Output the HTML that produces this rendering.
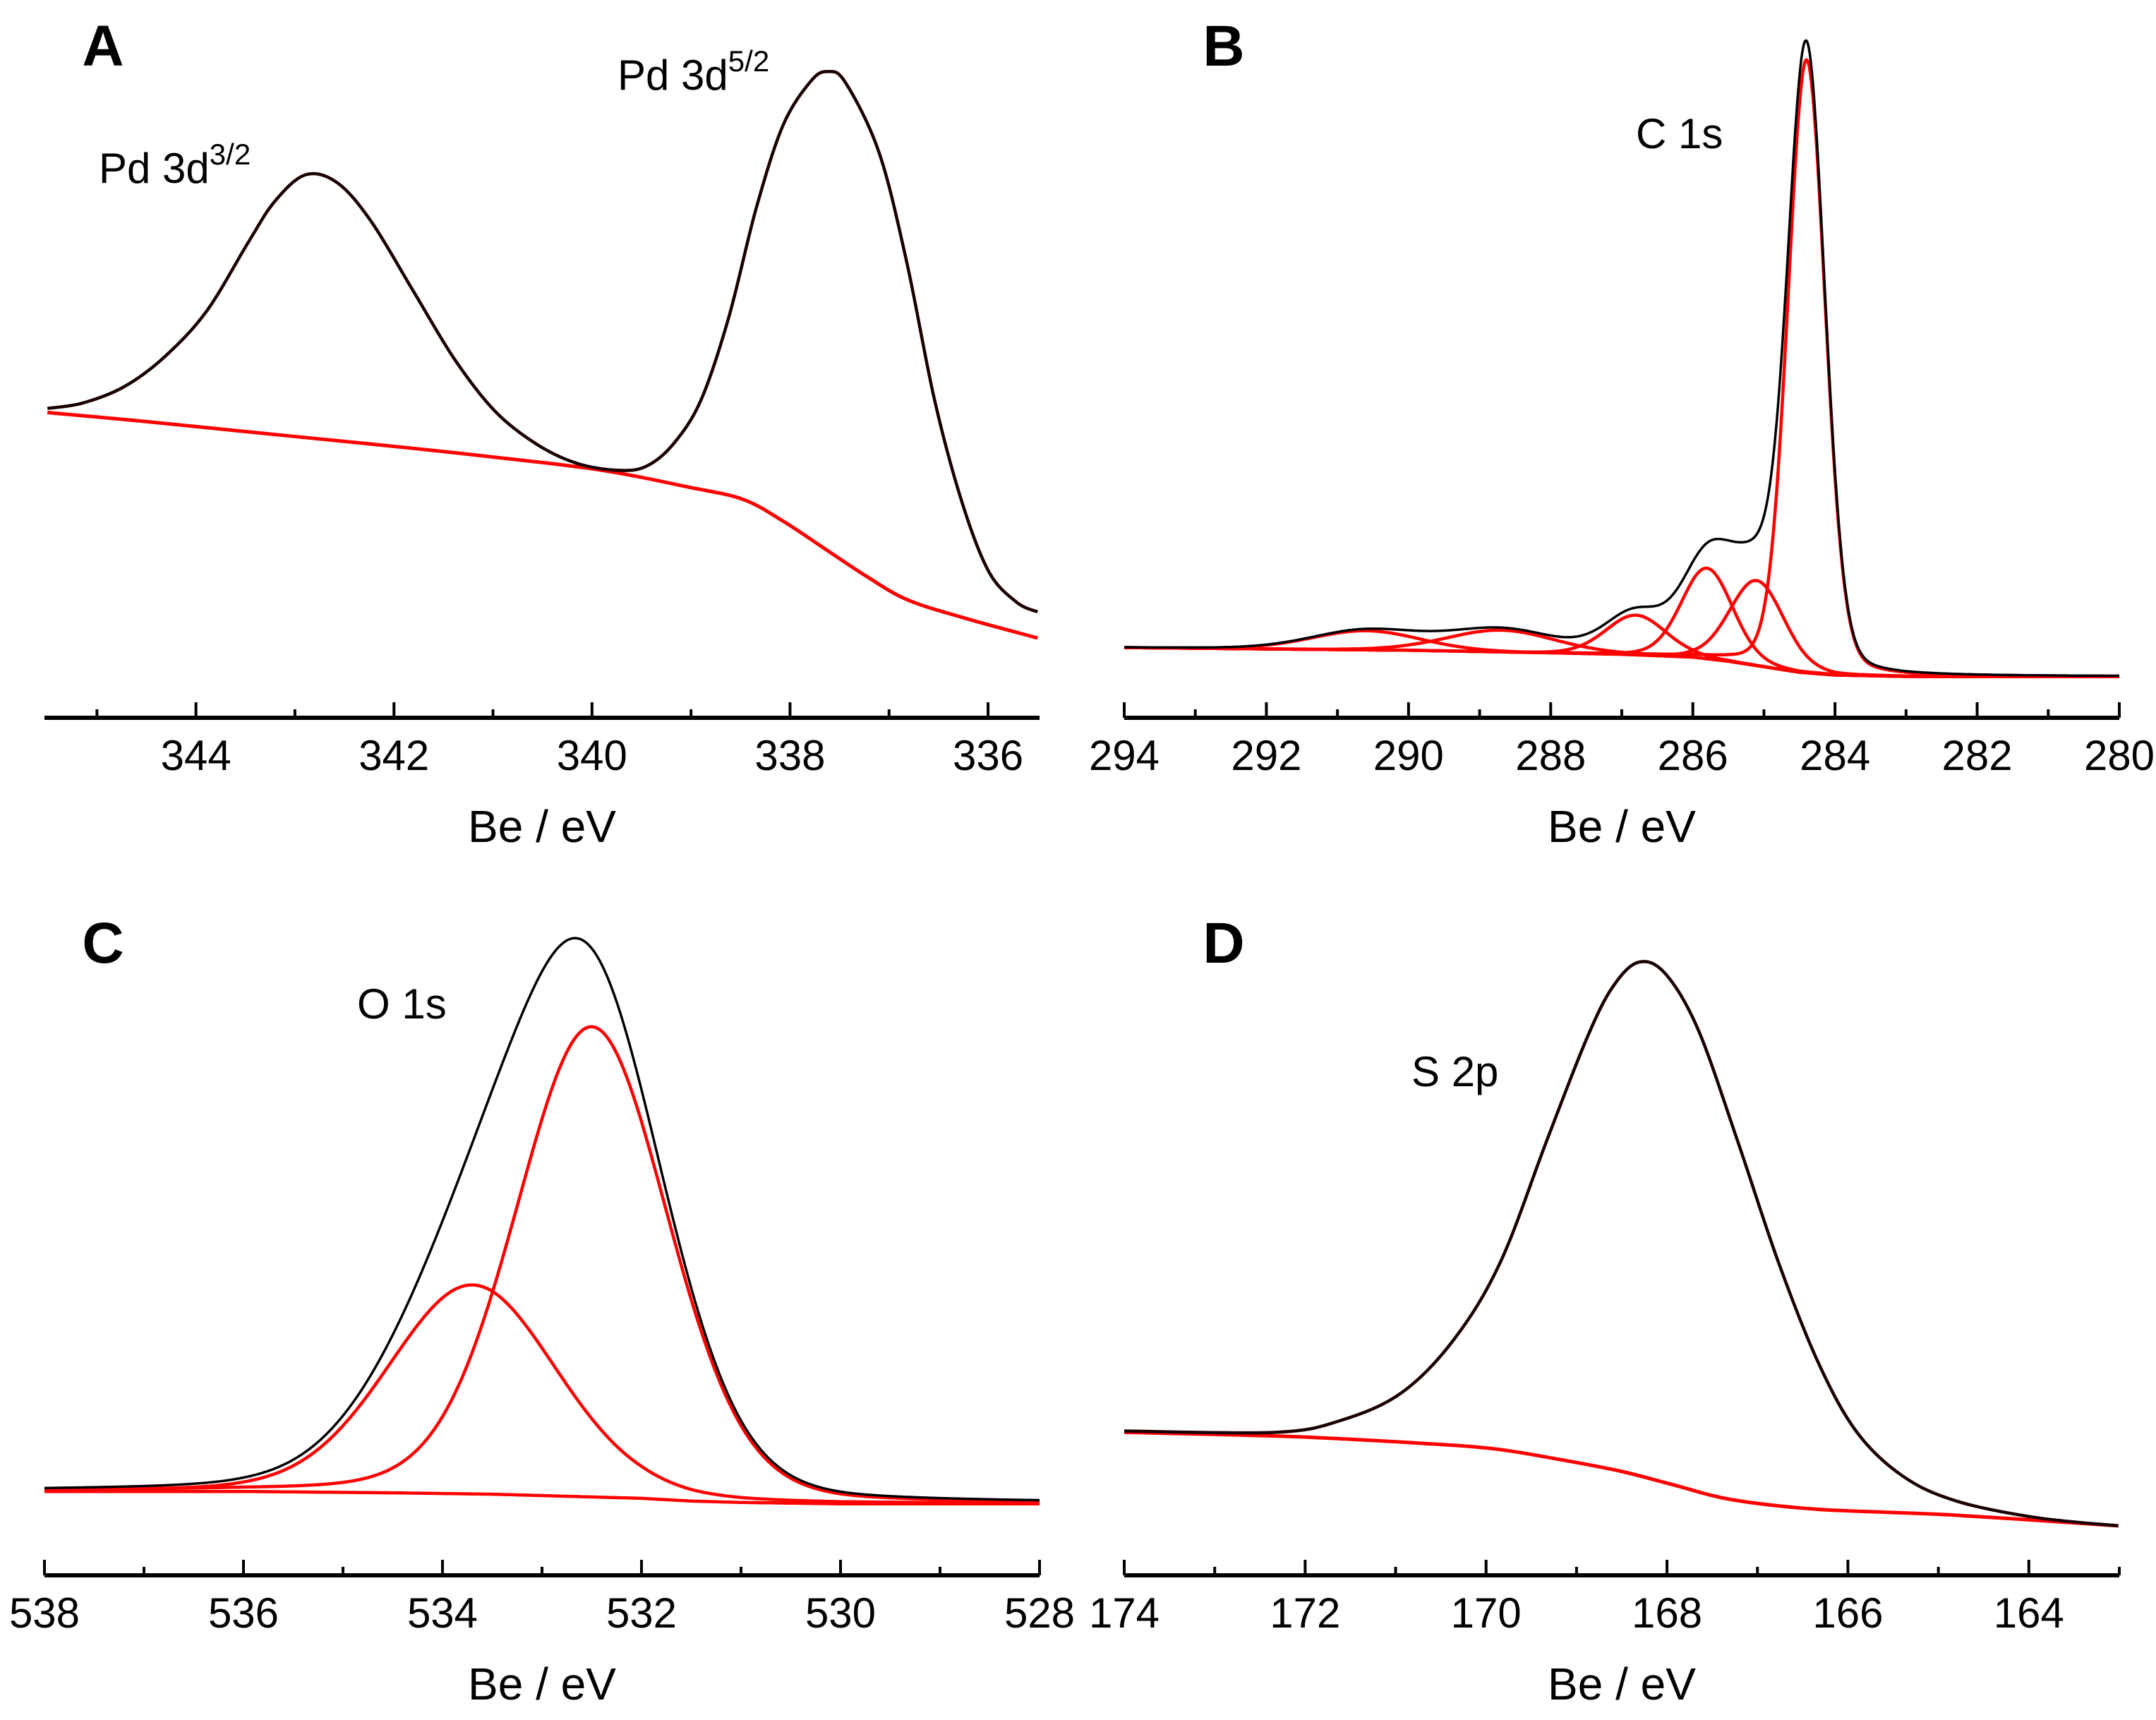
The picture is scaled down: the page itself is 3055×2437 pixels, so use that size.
<!DOCTYPE html>
<html><head><meta charset="utf-8">
<style>
html,body{margin:0;padding:0;background:#fff;}
svg{display:block;}
text{font-family:"Liberation Sans",Arial,sans-serif;fill:#000;}
</style></head>
<body>
<svg id="fig" width="3055" height="2437" viewBox="0 0 3055 2437" xmlns="http://www.w3.org/2000/svg"></svg>
<script>
// ---------- Panel A: Pd 3d ----------
const aEnergy = [345.5,345.14,344.72,344.31,343.89,343.47,343.2,342.89,342.57,342.23,341.81,341.39,340.98,340.56,340.15,339.73,339.45,339.18,338.9,338.62,338.34,338.07,337.79,337.62,337.44,337.1,336.82,336.54,336.26,335.99,335.71,335.5];
const aSignal = [225,229,241,263,296,346,376,395,389,361,311,261,223,199,185,180,183,199,231,291,371,431,463,470,462,411,331,231,156,106,84,77];
const aBgEnergy = [345.5,344.58,343.2,341.81,340.42,339.73,339.04,338.48,338.07,337.65,337.23,336.82,336.26,335.5];
const aBackground = [222,216,206,196,185,178,168,159,143,123,103,86,73,58];
const aTicks = [344,342,340,338,336];
// ---------- Panel B: C 1s ----------
const bBgEnergy = [294,290,287,286,285.5,285,284.5,284,283,280];
const bBackground = [51,49,46,44,41,37,33,31,30,30];
const bCenters = [284.4,285.1,285.8,286.8,288.7,290.6];
const bHeights = [446,62,66,29,16,14];
const bFwhm = [0.62,0.9,0.85,1.0,1.8,1.8];
const bTicks = [294,292,290,288,286,284,282,280];
// ---------- Panel C: O 1s ----------
const cBgEnergy = [538,536,534.5,533.5,533,532.5,532,531.5,531,530,528];
const cBackground = [61,61,60,59,58,57,56,54,53,52,52];
const cCenters = [532.5,533.7];
const cHeights = [342,152];
const cFwhm = [1.8,2.0];
const cTicks = [538,536,534,532,530,528];
// ---------- Panel D: S 2p ----------
const dEnergy = [174,172.32,171.59,170.93,170.35,169.84,169.33,168.89,168.6,168.31,168.01,167.65,167.21,166.77,166.33,165.9,165.39,164.8,163.92,163.01];
const dSignal = [105,104,113,133,172,228,316,390,428,446,437,396,314,228,155,104,72,54,42,36];
const dBgEnergy = [174,172.18,170.71,169.91,169.25,168.53,167.94,167.28,166.33,164.88,163.01];
const dBackground = [104,101,96,92,85,76,66,55,48,44,36];
const dTicks = [174,172,170,168,166,164];

const NS="http://www.w3.org/2000/svg";
const svg=document.getElementById('fig');
const YS=1.948;
function el(tag,attrs,parent){const e=document.createElementNS(NS,tag);for(const k in attrs)e.setAttribute(k,attrs[k]);(parent||svg).appendChild(e);return e;}

function interp(xs,ys,x){
  for(let i=0;i<xs.length-1;i++){
    const a=xs[i],b=xs[i+1];
    if((x<=a&&x>=b)||(x>=a&&x<=b)){const t=(x-a)/(b-a||1);return ys[i]+t*(ys[i+1]-ys[i]);}
  }
  return Math.abs(x-xs[0])<Math.abs(x-xs[xs.length-1])?ys[0]:ys[ys.length-1];
}
function voigt(x,c,h,w){const s=w/2.355;const g=Math.exp(-(x-c)*(x-c)/(2*s*s));const l=1/(1+4*(x-c)*(x-c)/(w*w));return h*(0.85*g+0.15*l);}

function smoothPath(pts){
  let d='M'+pts[0][0].toFixed(1)+','+pts[0][1].toFixed(1);
  for(let i=0;i<pts.length-1;i++){
    const p0=pts[i-1]||pts[i],p1=pts[i],p2=pts[i+1],p3=pts[i+2]||p2;
    const c1=[p1[0]+(p2[0]-p0[0])/6,p1[1]+(p2[1]-p0[1])/6];
    const c2=[p2[0]-(p3[0]-p1[0])/6,p2[1]-(p3[1]-p1[1])/6];
    d+='C'+c1[0].toFixed(1)+','+c1[1].toFixed(1)+' '+c2[0].toFixed(1)+','+c2[1].toFixed(1)+' '+p2[0].toFixed(1)+','+p2[1].toFixed(1);
  }
  return d;
}

function makePanel(cfg){
  const g=el('g',{});
  
  
  const xs=v=>cfg.x0+(cfg.e0-v)/(cfg.e0-cfg.e1)*(cfg.x1-cfg.x0);
  const ys=v=>cfg.axisY-v*YS;
  cfg.xs=xs;cfg.ys=ys;cfg.g=g;
  const ax=el('line',{x1:cfg.x0,y1:cfg.axisY,x2:cfg.x1,y2:cfg.axisY,stroke:'#000','stroke-width':6},g);
  
  
  const lo=Math.ceil(Math.min(cfg.e0,cfg.e1)),hi=Math.floor(Math.max(cfg.e0,cfg.e1));
  for(let v=lo;v<=hi;v++){
    const major=cfg.ticks.indexOf(v)>=0;
    const t=el('line',{x1:xs(v),x2:xs(v),y1:cfg.axisY,y2:cfg.axisY-(major?22:12),stroke:'#000','stroke-width':4},g);
    
    
  }
  cfg.ticks.forEach(v=>{
    const t=el('text',{x:xs(v),y:cfg.axisY+74,'font-size':60,'text-anchor':'middle'},g);
    t.textContent=v;
    
    
  });
  const xt=el('text',{x:(cfg.x0+cfg.x1)/2,y:cfg.axisY+176,'font-size':64,'text-anchor':'middle'},g);
  xt.textContent='Be / eV';
  
  
  const pl=el('text',{x:cfg.lx,y:cfg.ly,'font-size':82,'font-weight':'bold','text-anchor':'middle'},g);
  pl.textContent=cfg.letter;
  
  
  return cfg;
}
function drawCurve(cfg,pts,color,w,name){
  const p=el('path',{d:smoothPath(pts.map(q=>[cfg.xs(q[0]),cfg.ys(q[1])])),fill:'none',stroke:color,'stroke-width':w,'stroke-linejoin':'round'},cfg.g);
  
  
}
function sampled(E,I){return E.map((e,i)=>[e,I[i]]);}
function grid(e0,e1,step){const r=[];const n=Math.round(Math.abs(e0-e1)/step);for(let i=0;i<=n;i++)r.push(e0+(e1-e0)*i/n);return r;}
function label(x,y,main,sup,name){
  const t=el('text',{x:x,y:y,'font-size':60});
  
  
  t.appendChild(document.createTextNode(main));
  if(sup){const s=el('tspan',{'font-size':42,dy:-26},t);s.textContent=sup;}
}

// Panel A
const A=makePanel({name:'panel-a-pd3d',letter:'A',lx:146,ly:93,x0:63,x1:1473,e0:345.53,e1:335.48,axisY:1017,ticks:aTicks});
drawCurve(A,sampled(aBgEnergy,aBackground),'#f00',5,'background-curve');
drawCurve(A,sampled(aEnergy,aSignal),'#1a0000',4.5,'measured-spectrum');
label(140,259,'Pd 3d','3/2','peak-label-pd3d32');
label(875,127,'Pd 3d','5/2','peak-label-pd3d52');

// Panel B
const B=makePanel({name:'panel-b-c1s',letter:'B',lx:1734,ly:93,x0:1593,x1:3003,e0:294,e1:280,axisY:1017,ticks:bTicks});
{
  const E=grid(294,280,0.02);
  const bg=E.map(e=>interp(bBgEnergy,bBackground,e));
  bCenters.forEach((c,k)=>drawCurve(B,E.map((e,i)=>[e,bg[i]+voigt(e,c,bHeights[k],bFwhm[k])]),'#f00',4.5,'component-peak'));
  drawCurve(B,E.map((e,i)=>[e,bg[i]+bCenters.reduce((s,c,k)=>s+voigt(e,c,bHeights[k],bFwhm[k]),0)]),'#000',3.5,'envelope-spectrum');
}
label(2318,210,'C 1s',null,'peak-label-c1s');

// Panel C
const C=makePanel({name:'panel-c-o1s',letter:'C',lx:146,ly:1364,x0:63,x1:1473,e0:538,e1:528,axisY:2232,ticks:cTicks});
{
  const E=grid(538,528,0.02);
  const bg=E.map(e=>interp(cBgEnergy,cBackground,e));
  drawCurve(C,E.map((e,i)=>[e,bg[i]]),'#f00',4.5,'background-curve');
  cCenters.forEach((c,k)=>drawCurve(C,E.map((e,i)=>[e,bg[i]+voigt(e,c,cHeights[k],cFwhm[k])]),'#f00',4.5,'component-peak'));
  drawCurve(C,E.map((e,i)=>[e,bg[i]+cCenters.reduce((s,c,k)=>s+voigt(e,c,cHeights[k],cFwhm[k]),0)]),'#000',3.5,'envelope-spectrum');
}
label(506,1443,'O 1s',null,'peak-label-o1s');

// Panel D
const D=makePanel({name:'panel-d-s2p',letter:'D',lx:1734,ly:1364,x0:1593,x1:3003,e0:174,e1:163,axisY:2232,ticks:dTicks});
drawCurve(D,sampled(dBgEnergy,dBackground),'#f00',5,'background-curve');
drawCurve(D,sampled(dEnergy,dSignal),'#1a0000',4.5,'measured-spectrum');
label(2000,1539,'S 2p',null,'peak-label-s2p');
</script>
</body></html>
